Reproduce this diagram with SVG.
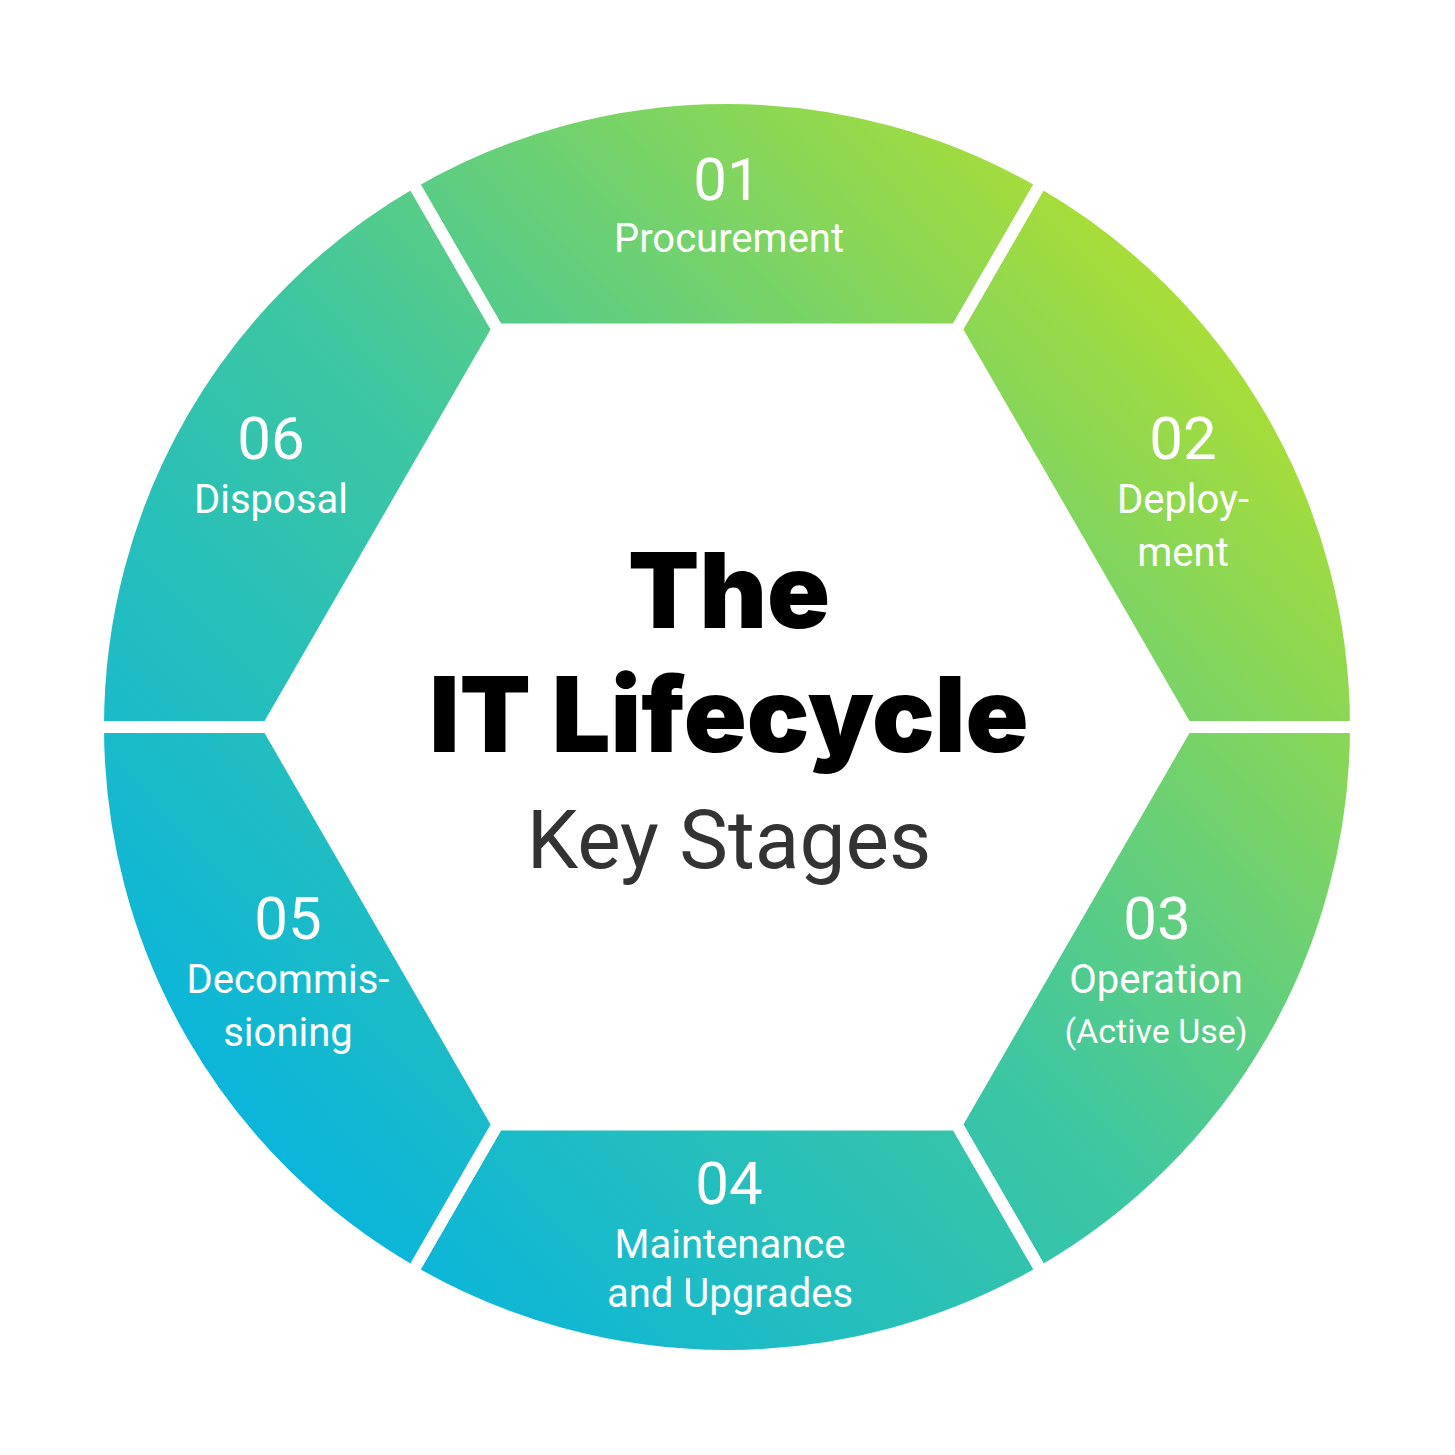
<svg xmlns="http://www.w3.org/2000/svg" width="1455" height="1455" viewBox="0 0 1455 1455">
<style>
.seg{fill:url(#g);stroke:#fff;stroke-width:12;stroke-linejoin:miter}
.num{font-family:Roboto,"Liberation Sans",sans-serif;font-size:60px;fill:#fff;text-anchor:middle}
.lbl{font-family:Roboto,"Liberation Sans",sans-serif;font-size:40px;fill:#fff;text-anchor:middle}
.h{font-family:Inter,"Liberation Sans",sans-serif;font-weight:900;font-size:104px;fill:#000;text-anchor:middle}
.k{font-family:Roboto,"Liberation Sans",sans-serif;font-size:82px;fill:#333;text-anchor:middle}
</style>
<defs>
<linearGradient id="g" gradientUnits="userSpaceOnUse" x1="1250" y1="250" x2="200" y2="1250">
<stop offset="0" stop-color="#b6e02a"/>
<stop offset="0.5" stop-color="#3ec7a0"/>
<stop offset="1" stop-color="#00b2e6"/>
</linearGradient>
</defs>
<rect width="1455" height="1455" fill="#fff"/>
<g id="s01"><path class="seg" d="M497.5,329.5 L412.5,182.3 A629,629 0 0 1 1041.5,182.3 L956.5,329.5 Z"/>
<text class="num" x="727" y="200">01</text><text class="lbl" x="729" y="252">Procurement</text></g>
<g id="s02"><path class="seg" d="M956.5,329.5 L1041.5,182.3 A629,629 0 0 1 1356,727 L1186,727 Z"/>
<text class="num" x="1183" y="459">02</text><text class="lbl" x="1183" y="513">Deploy-</text><text class="lbl" x="1183" y="566">ment</text></g>
<g id="s03"><path class="seg" d="M1186,727 L1356,727 A629,629 0 0 1 1041.5,1271.7 L956.5,1124.5 Z"/>
<text class="num" x="1157" y="939">03</text><text class="lbl" x="1156" y="993">Operation</text><text class="lbl" x="1156" y="1043" style="font-size:34px">(Active Use)</text></g>
<g id="s04"><path class="seg" d="M956.5,1124.5 L1041.5,1271.7 A629,629 0 0 1 412.5,1271.7 L497.5,1124.5 Z"/>
<text class="num" x="729" y="1204">04</text><text class="lbl" x="730" y="1258">Maintenance</text><text class="lbl" x="730" y="1307">and Upgrades</text></g>
<g id="s05"><path class="seg" d="M497.5,1124.5 L412.5,1271.7 A629,629 0 0 1 98,727 L268,727 Z"/>
<text class="num" x="288" y="939">05</text><text class="lbl" x="288" y="993">Decommis-</text><text class="lbl" x="288" y="1046">sioning</text></g>
<g id="s06"><path class="seg" d="M268,727 L98,727 A629,629 0 0 1 412.5,182.3 L497.5,329.5 Z"/>
<text class="num" x="271" y="459">06</text><text class="lbl" x="271" y="513">Disposal</text></g>
<g id="title">
<text class="h" x="729" y="628">The</text>
<text class="h" x="729" y="752">IT Lifecycle</text>
<text class="k" x="729" y="868">Key Stages</text>
</g>
<g id="connectors"/>
</svg>
